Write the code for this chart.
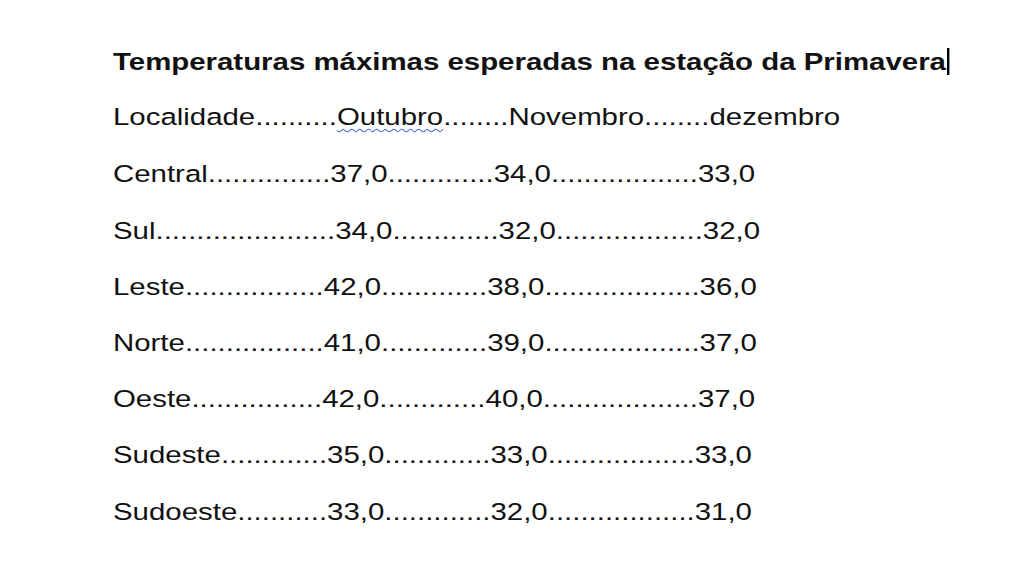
<!DOCTYPE html>
<html><head><meta charset="utf-8">
<script src="https://cdn.jsdelivr.net/npm/chart.js@4"></script>
<style>
body{margin:0;width:1024px;height:576px;background:#fff;font-family:"Liberation Sans",Arial,sans-serif;color:#111;overflow:hidden}
#t{position:absolute;left:113px;top:48px;font-size:24.5px;font-weight:bold;white-space:pre;transform:scaleX(1.2);transform-origin:0 0}
#t span{border-right:2px solid #000;padding-right:1px}
.r{position:absolute;left:113px;font-size:24.5px;white-space:pre;transform:scaleX(1.2);transform-origin:0 0}
.w{text-decoration:underline wavy #4a6fd8;text-decoration-thickness:1px;text-underline-offset:3px}
</style></head><body>
<div id="t"><span>Temperaturas máximas esperadas na estação da Primavera</span></div>
<div id="rows"></div>
<script>
const title = "Temperaturas máximas esperadas na estação da Primavera";
const header = ["Localidade", "Outubro", "Novembro", "dezembro"];
const headerDots = ["..........", "........", "........"];
const localidades = ["Central","Sul","Leste","Norte","Oeste","Sudeste","Sudoeste"];
const outubro = [37,34,42,41,42,35,33];
const novembro = [34,32,38,39,40,33,32];
const dezembro = [33,32,36,37,37,33,31];
const dots1 = ["...............","......................",".................",".................","................",".............","..........."];
const dots2 = [".............",".............",".............",".............",".............",".............","............."];
const dots3 = ["..................","..................","...................","...................","...................","..................",".................."];
const fmt = v => v.toFixed(1).replace(".", ",");
const rows = document.getElementById("rows");
const tops = [103,160,217,273,329,385,441,498];
let h = document.createElement("div"); h.className="r"; h.style.top=tops[0]+"px";
h.innerHTML = header[0]+headerDots[0]+'<span class="w">'+header[1]+'</span>'+headerDots[1]+header[2]+headerDots[2]+header[3];
rows.appendChild(h);
localidades.forEach((l,i)=>{
  const d=document.createElement("div"); d.className="r"; d.style.top=tops[i+1]+"px";
  d.textContent = l+dots1[i]+fmt(outubro[i])+dots2[i]+fmt(novembro[i])+dots3[i]+fmt(dezembro[i]);
  rows.appendChild(d);
});
</script>
</body></html>
